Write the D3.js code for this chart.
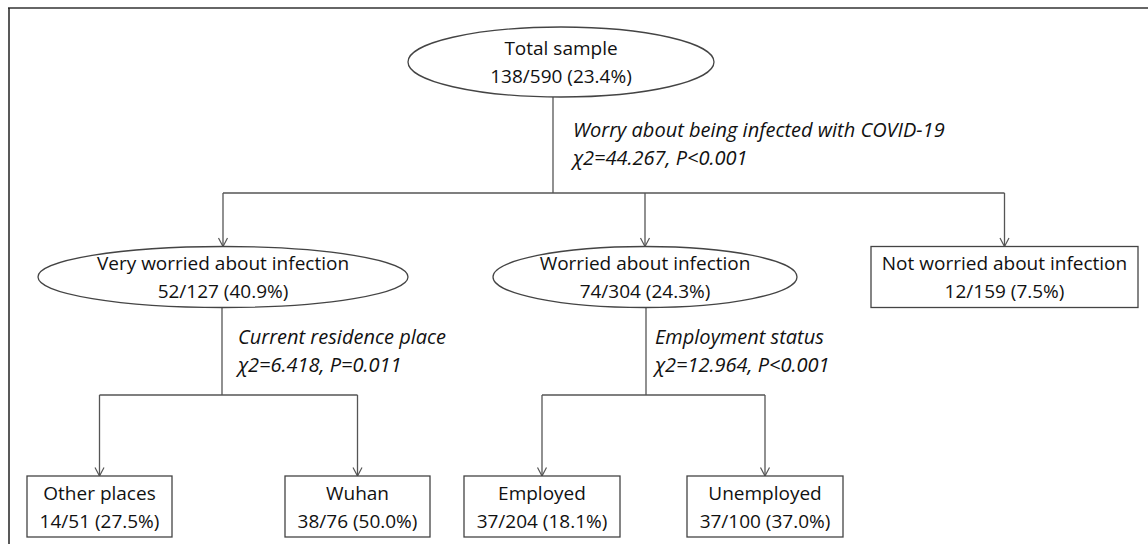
<!DOCTYPE html>
<html>
<head>
<meta charset="utf-8">
<script src="https://cdn.jsdelivr.net/npm/d3@7"></script>
<style>
  body { margin: 0; background: #fff; }
  svg { display: block; }
</style>
</head>
<body>
<div id="chart"></div>
<script>
// Tree data
const nodeIds = ['total', 'very', 'worried', 'notWorried', 'other', 'wuhan', 'employed', 'unemployed']
const nodeParents = [null, 'total', 'total', 'total', 'very', 'very', 'worried', 'worried']
const nodeLabels = ['Total sample', 'Very worried about infection', 'Worried about infection',
  'Not worried about infection', 'Other places', 'Wuhan', 'Employed', 'Unemployed']
const nodeCases = [138, 52, 74, 12, 14, 38, 37, 37]
const nodeTotals = [590, 127, 304, 159, 51, 76, 204, 100]
const nodePercents = ['23.4', '40.9', '24.3', '7.5', '27.5', '50.0', '18.1', '37.0']

// Splits (keyed by parent node)
const splitNodes = ['total', 'very', 'worried']
const splitVariables = ['Worry about being infected with COVID-19', 'Current residence place', 'Employment status']
const splitStats = ['\u03c72=44.267, P<0.001', '\u03c72=6.418, P=0.011', '\u03c72=12.964, P<0.001']

// Layout (positions in px, separate from the data)
const layoutX = { total: 561, very: 223, worried: 645, notWorried: 1004.5,
  other: 99.5, wuhan: 357.5, employed: 542, unemployed: 765 }
const halfW = { total: 153, very: 185, worried: 152, notWorried: 133.5,
  other: 72.5, wuhan: 72.5, employed: 78, unemployed: 78 }
const stemX = { total: 553, very: 222, worried: 646 }
const noteX = { total: 573, very: 238, worried: 655 }

const width = 1148
const height = 544
const font = '"Open Sans", Lato, sans-serif'
const lineCol = '#555'

const levelY = d3.scaleOrdinal().domain([0, 1, 2]).range([62, 277, 506.5])
const halfH = d3.scaleOrdinal().domain([0, 1, 2]).range([35, 30.5, 30.5])
const branchY = d3.scaleOrdinal().domain([0, 1]).range([193, 395])
const noteY = d3.scaleOrdinal().domain([0, 1]).range([130, 337])

const rows = nodeIds.map((id, i) => ({
  id, parent: nodeParents[i], label: nodeLabels[i],
  stat: `${nodeCases[i]}/${nodeTotals[i]} (${nodePercents[i]}%)`
}))
const root = d3.stratify().id(d => d.id).parentId(d => d.parent)(rows)

const svg = d3.select('#chart').append('svg')
  .attr('width', width)
  .attr('height', height)

// Frame
svg.append('line')
  .attr('x1', 8).attr('x2', width).attr('y1', 8).attr('y2', 8)
  .attr('stroke', '#666').attr('stroke-width', 2)
svg.append('line')
  .attr('x1', 9).attr('x2', 9).attr('y1', 8).attr('y2', height)
  .attr('stroke', '#222').attr('stroke-width', 1.5)

// Open arrow head, drawn along +x so orient=auto points it down the line
svg.append('defs').append('marker')
  .attr('id', 'arrow')
  .attr('markerUnits', 'userSpaceOnUse')
  .attr('viewBox', '0 0 10 12')
  .attr('refX', 9.5).attr('refY', 6)
  .attr('markerWidth', 10).attr('markerHeight', 12)
  .attr('orient', 'auto')
  .append('path')
  .attr('d', 'M1,1.5 L9.5,6 L1,10.5')
  .attr('fill', 'none')
  .attr('stroke', lineCol)
  .attr('stroke-width', 1.2)

// Connectors
const gLinks = svg.append('g')
root.descendants().filter(d => d.children).forEach(p => {
  const sx = stemX[p.id]
  const by = branchY(p.depth)
  const kids = p.children
  const xs = kids.map(k => layoutX[k.id])
  gLinks.append('line')
    .attr('x1', sx).attr('x2', sx)
    .attr('y1', levelY(p.depth) + halfH(p.depth)).attr('y2', by)
    .attr('stroke', lineCol).attr('stroke-width', 1.3)
  gLinks.append('line')
    .attr('x1', d3.min(xs)).attr('x2', d3.max(xs))
    .attr('y1', by).attr('y2', by)
    .attr('stroke', lineCol).attr('stroke-width', 1.6)
  kids.forEach(k => {
    gLinks.append('line')
      .attr('x1', layoutX[k.id]).attr('x2', layoutX[k.id])
      .attr('y1', by).attr('y2', levelY(k.depth) - halfH(k.depth))
      .attr('stroke', lineCol).attr('stroke-width', 1.3)
      .attr('marker-end', 'url(#arrow)')
  })

  // Split annotation
  const si = splitNodes.indexOf(p.id)
  const note = gLinks.append('text')
    .attr('x', noteX[p.id])
    .attr('y', noteY(p.depth))
    .style('font-family', font)
    .style('font-size', '20px')
    .style('font-style', 'italic')
    .attr('fill', '#111')
  note.append('tspan').attr('x', noteX[p.id]).attr('dy', '0.35em').text(splitVariables[si])
  note.append('tspan').attr('x', noteX[p.id]).attr('dy', 27.5).text(splitStats[si])
})

// Nodes: ellipses for split nodes, boxes for terminal nodes
const gNodes = svg.selectAll('g.node')
  .data(root.descendants())
  .join('g')
  .attr('class', 'node')
  .attr('transform', d => `translate(${layoutX[d.id]},${levelY(d.depth)})`)

gNodes.filter(d => d.children).append('ellipse')
  .attr('rx', d => halfW[d.id])
  .attr('ry', d => halfH(d.depth))
  .attr('fill', '#fff')
  .attr('stroke', '#444')
  .attr('stroke-width', 1.3)

gNodes.filter(d => !d.children).append('rect')
  .attr('x', d => -halfW[d.id])
  .attr('y', d => -halfH(d.depth))
  .attr('width', d => 2 * halfW[d.id])
  .attr('height', d => 2 * halfH(d.depth))
  .attr('fill', '#fff')
  .attr('stroke', '#444')
  .attr('stroke-width', 1.3)

const labels = gNodes.append('text')
  .attr('text-anchor', 'middle')
  .style('font-family', font)
  .style('font-size', '19px')
  .attr('fill', '#111')
labels.append('tspan').attr('x', 0).attr('y', -13.5).attr('dy', '0.35em').text(d => d.data.label)
labels.append('tspan').attr('x', 0).attr('y', 14.5).attr('dy', '0.35em').text(d => d.data.stat)
</script>
</body>
</html>
